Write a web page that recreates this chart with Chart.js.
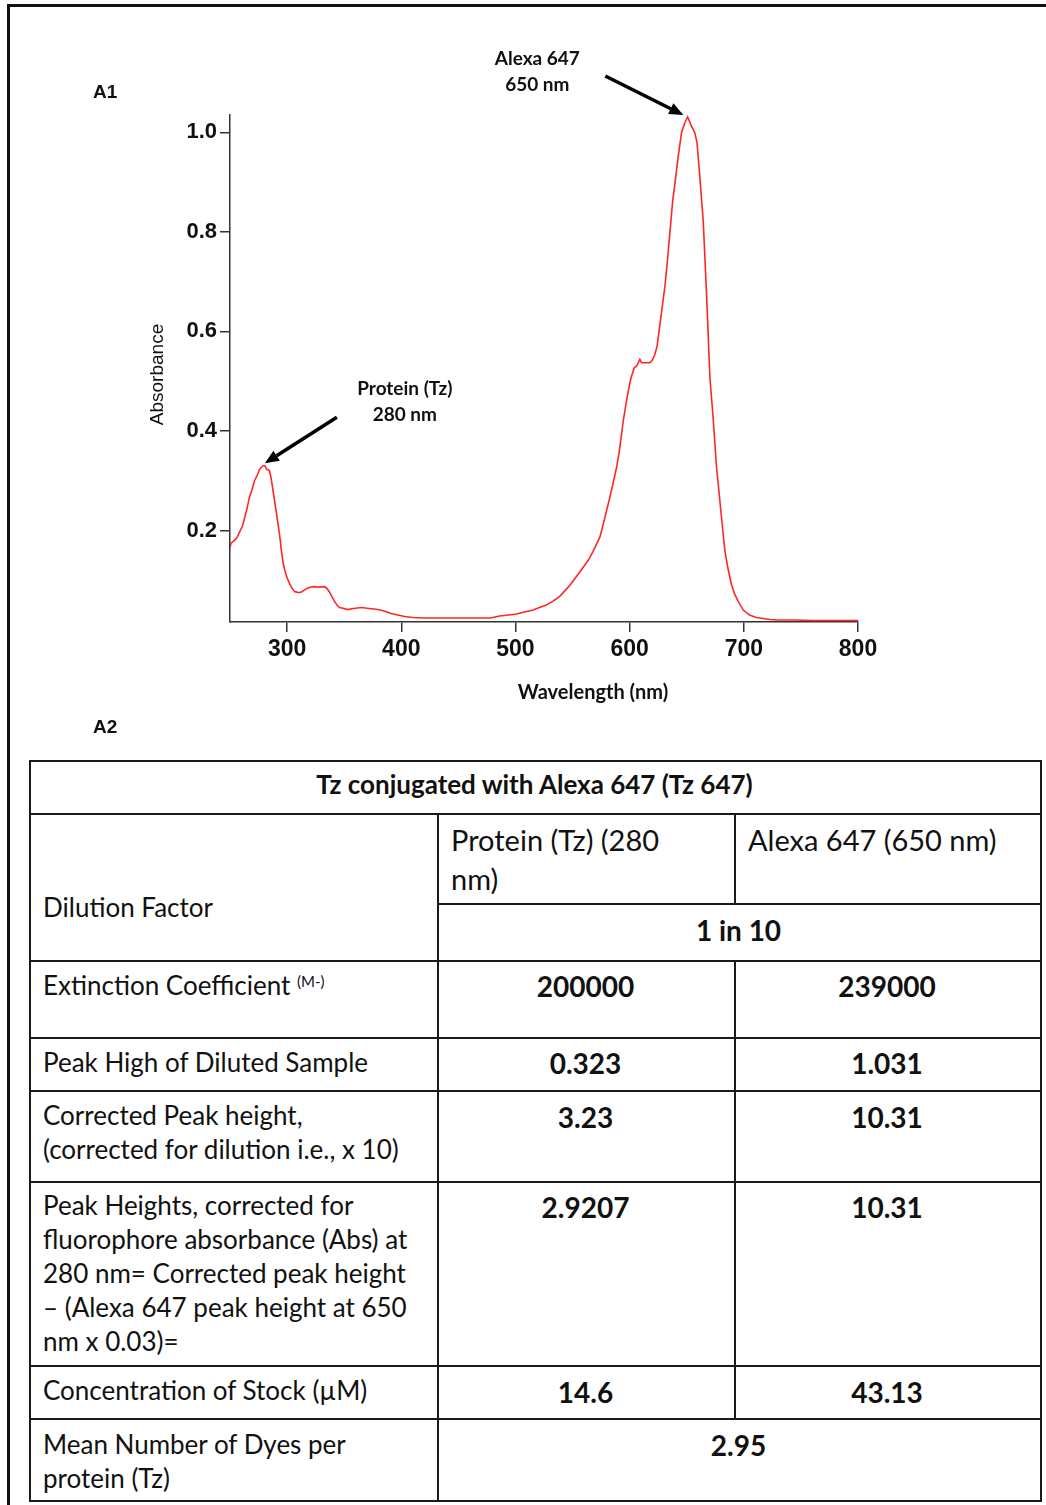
<!DOCTYPE html>
<html><head><meta charset="utf-8">
<script src="https://cdn.jsdelivr.net/npm/chart.js@4.4.1/dist/chart.umd.min.js"></script>
<style>
html,body{margin:0;padding:0;background:#fff;}
body{width:1046px;height:1505px;position:relative;overflow:hidden;font-family:Lato,sans-serif;color:#111;}
#wrap{position:absolute;left:0;top:0;width:1046px;height:740px;}
.frameTop{position:absolute;left:7px;top:4px;width:1039px;height:3px;background:#111;}
.frameLeft{position:absolute;left:7px;top:4px;width:3px;height:1501px;background:#111;}
.lbl{position:absolute;font-family:"Liberation Sans",Arial,sans-serif;font-weight:bold;font-size:19px;line-height:22px;}
.ln{position:absolute;background:#1a1a1a;}
.t{position:absolute;font-size:26px;line-height:34px;white-space:nowrap;}
.c{transform:translateX(-50%);text-align:center;}
.b{font-weight:bold;font-size:28px;}
.tt{font-size:26px;}
.h{font-size:29px;line-height:39px;}
sup{font-size:15px;vertical-align:top;position:relative;top:-4px;}
</style></head>
<body>
<div id="wrap"><canvas id="chart" width="1046" height="740"></canvas></div>
<div class="frameTop"></div><div class="frameLeft"></div>
<div class="lbl" style="left:93px;top:81px;">A1</div>
<div class="lbl" style="left:93px;top:716px;">A2</div>
<div id="table"></div>
<script>
// ---- Spectrum data ----
const wavelength = [250,251,254,256,258.5,261,263,265,267,269,271.5,274,276,279,280.5,282,284.5,286,287.7,290,292,293.5,295,296.5,298,300,302,304,306.5,310,313,317,320,324,328,333,335,337,339.5,341.7,344,346,350,353,358,365,372,379.6,385,391,397,403,410,420,440,460,478,486,494,501,508,515.5,521,527,533,539,543,547.7,552,556.5,560,563.7,568,574,578,582.7,586,588.6,591,594.4,596.5,598.8,601,604,606,609,610.5,614,617.8,620,622,624,625,628,631,633,635.3,637.6,640.5,642.6,645.5,648.4,650.8,652.5,654,657,659,661.6,664.5,667.4,670.3,673,676,680.5,683.4,686,689,692,695,699.5,705,711,717,723,730,745,760,780,800];
const absorbance = [0.165,0.175,0.18,0.185,0.197,0.21,0.227,0.245,0.267,0.28,0.30,0.312,0.323,0.33,0.33,0.323,0.321,0.305,0.28,0.245,0.214,0.19,0.16,0.135,0.12,0.105,0.094,0.085,0.077,0.075,0.077,0.083,0.086,0.087,0.086,0.087,0.083,0.077,0.066,0.057,0.049,0.045,0.043,0.041,0.043,0.045,0.043,0.041,0.038,0.033,0.03,0.027,0.025,0.024,0.024,0.024,0.024,0.028,0.03,0.032,0.036,0.04,0.045,0.05,0.058,0.068,0.078,0.09,0.103,0.117,0.128,0.14,0.158,0.187,0.223,0.267,0.3,0.327,0.36,0.42,0.45,0.48,0.505,0.527,0.53,0.544,0.537,0.537,0.537,0.543,0.553,0.57,0.587,0.64,0.693,0.74,0.80,0.86,0.913,0.953,1.0,1.02,1.031,1.022,1.013,1.0,0.98,0.907,0.82,0.673,0.507,0.43,0.33,0.225,0.16,0.125,0.093,0.072,0.058,0.04,0.03,0.025,0.023,0.021,0.02,0.02,0.019,0.019,0.019];
const xTicks = [300,400,500,600,700,800];
const yTicks = [0.2,0.4,0.6,0.8,1.0];
const xTitle = 'Wavelength (nm)';
const yTitle = 'Absorbance';
const peakLabels = [
  {lines:['Protein (Tz)','280 nm'], x:280.5, y:0.335, tail:[72,-46], text:[140,-74]},
  {lines:['Alexa 647','650 nm'], x:647, y:1.035, tail:[-78,-39], text:[-146,-56]}
];

// ---- Table content ----
const tableTitle = 'Tz conjugated with Alexa 647 (Tz 647)';

const points = wavelength.map((w,i)=>({x:w,y:absorbance[i]}));

const annot = {
  id:'annot',
  afterDraw(chart){
    const {ctx, chartArea:a, scales:{x,y}} = chart;
    ctx.save();
    // axis titles
    ctx.fillStyle='#111'; ctx.textAlign='center'; ctx.textBaseline='middle';
    ctx.font = 'bold 20px Lato';
    ctx.fillText(xTitle, (a.left+a.right)/2 + 49, a.bottom + 71);
    ctx.save();
    ctx.translate(a.left - 72, (a.top+a.bottom)/2 + 6);
    ctx.rotate(-Math.PI/2);
    ctx.font = '19px "Liberation Sans", Arial';
    ctx.fillText(yTitle, 0, 0);
    ctx.restore();
    peakLabels.forEach(p=>{
      const tx = x.getPixelForValue(p.x), ty = y.getPixelForValue(p.y);
      const sx = tx + p.tail[0], sy = ty + p.tail[1];
      const ang = Math.atan2(ty-sy, tx-sx);
      const hl = 14, hw = 6;
      const bx = tx - hl*Math.cos(ang), by = ty - hl*Math.sin(ang);
      ctx.strokeStyle = '#000'; ctx.fillStyle='#000'; ctx.lineWidth = 3.5; ctx.lineCap='butt';
      ctx.beginPath(); ctx.moveTo(sx,sy); ctx.lineTo(bx,by); ctx.stroke();
      ctx.beginPath(); ctx.moveTo(tx,ty);
      ctx.lineTo(bx + hw*Math.sin(ang), by - hw*Math.cos(ang));
      ctx.lineTo(bx - hw*Math.sin(ang), by + hw*Math.cos(ang));
      ctx.closePath(); ctx.fill();
      ctx.font = 'bold 19px Lato'; ctx.textAlign='center'; ctx.textBaseline='middle'; ctx.fillStyle='#111';
      p.lines.forEach((l,i)=>ctx.fillText(l, tx + p.text[0], ty + p.text[1] + i*26));
    });
    ctx.restore();
  }
};

new Chart(document.getElementById('chart'), {
  type:'line',
  data:{datasets:[{data:points, borderColor:'#ff2626', borderWidth:1.6, pointRadius:0, fill:false, tension:0}]},
  options:{
    responsive:false, animation:false, events:[],
    layout:{padding:{left:130, top:115, right:188, bottom:18}},
    plugins:{legend:{display:false}, tooltip:{enabled:false}},
    scales:{
      x:{type:'linear', min:250, max:800,
        afterBuildTicks(s){ s.ticks = xTicks.map(v=>({value:v})); },
        afterFit(s){ s.height = 100; },
        border:{display:true, color:'#333', width:1.5},
        grid:{display:true, drawOnChartArea:false, drawTicks:true, tickLength:10, color:'#333', lineWidth:1.5},
        ticks:{color:'#111', padding:4, font:{family:'"Liberation Sans", Arial', weight:'bold', size:23}, maxRotation:0, callback:v=>String(v)},
        title:{display:false, text:xTitle}
      },
      y:{type:'linear', min:0.016, max:1.035,
        afterBuildTicks(s){ s.ticks = yTicks.map(v=>({value:v})); },
        afterFit(s){ s.width = 100; },
        border:{display:true, color:'#333', width:1.5},
        grid:{display:true, drawOnChartArea:false, drawTicks:true, tickLength:10, color:'#333', lineWidth:1.5},
        ticks:{color:'#111', padding:3, font:{family:'"Liberation Sans", Arial', weight:'bold', size:22}, callback:v=>v.toFixed(1)},
        title:{display:false, text:yTitle}
      }
    }
  },
  plugins:[annot]
});

// ---- build the table (HTML) ----
const T = document.getElementById('table');
function line(x,y,w,h){const d=document.createElement('div');d.className='ln';Object.assign(d.style,{left:x+'px',top:y+'px',width:w+'px',height:h+'px'});T.appendChild(d);}
function txt(html,x,top,cls){const d=document.createElement('div');d.className='t '+(cls||'');d.innerHTML=html;d.style.left=x+'px';d.style.top=top+'px';T.appendChild(d);}
const L=29,R=1040,C1=437,C2=734;
[760,813,960,1037,1090,1181,1365,1418,1500].forEach(y=>line(L,y,R-L+1.5,1.5));
line(C1,903,R-C1,1.5);
line(L,760,1.5,741.5); line(R,760,1.5,741.5);
line(C1,813,1.5,688); line(C2,813,1.5,90); line(C2,960,1.5,458);
const cx1=(C1+C2)/2, cx2=(C2+R)/2, cx12=(C1+R)/2;
txt(tableTitle,(L+R)/2,767,'c b tt');
txt('Protein (Tz) (280<br>nm)',451,820,'h');
txt('Alexa 647 (650 nm)',748,820,'h');
txt('Dilution Factor',43,890);
txt('1 in 10',cx12,913,'c b');
txt('Extinction Coefficient <sup>(M-)</sup>',43,968);
txt('200000',cx1,969,'c b'); txt('239000',cx2,969,'c b');
txt('Peak High of Diluted Sample',43,1045);
txt('0.323',cx1,1046,'c b'); txt('1.031',cx2,1046,'c b');
txt('Corrected Peak height,<br>(corrected for dilution i.e., x 10)',43,1098);
txt('3.23',cx1,1100,'c b'); txt('10.31',cx2,1100,'c b');
txt('Peak Heights, corrected for<br>fluorophore absorbance (Abs) at<br>280 nm= Corrected peak height<br>– (Alexa 647 peak height at 650<br>nm x 0.03)=',43,1188);
txt('2.9207',cx1,1190,'c b'); txt('10.31',cx2,1190,'c b');
txt('Concentration of Stock (µM)',43,1373);
txt('14.6',cx1,1375,'c b'); txt('43.13',cx2,1375,'c b');
txt('Mean Number of Dyes per<br>protein (Tz)',43,1427);
txt('2.95',cx12,1428,'c b');
</script>
</body></html>
